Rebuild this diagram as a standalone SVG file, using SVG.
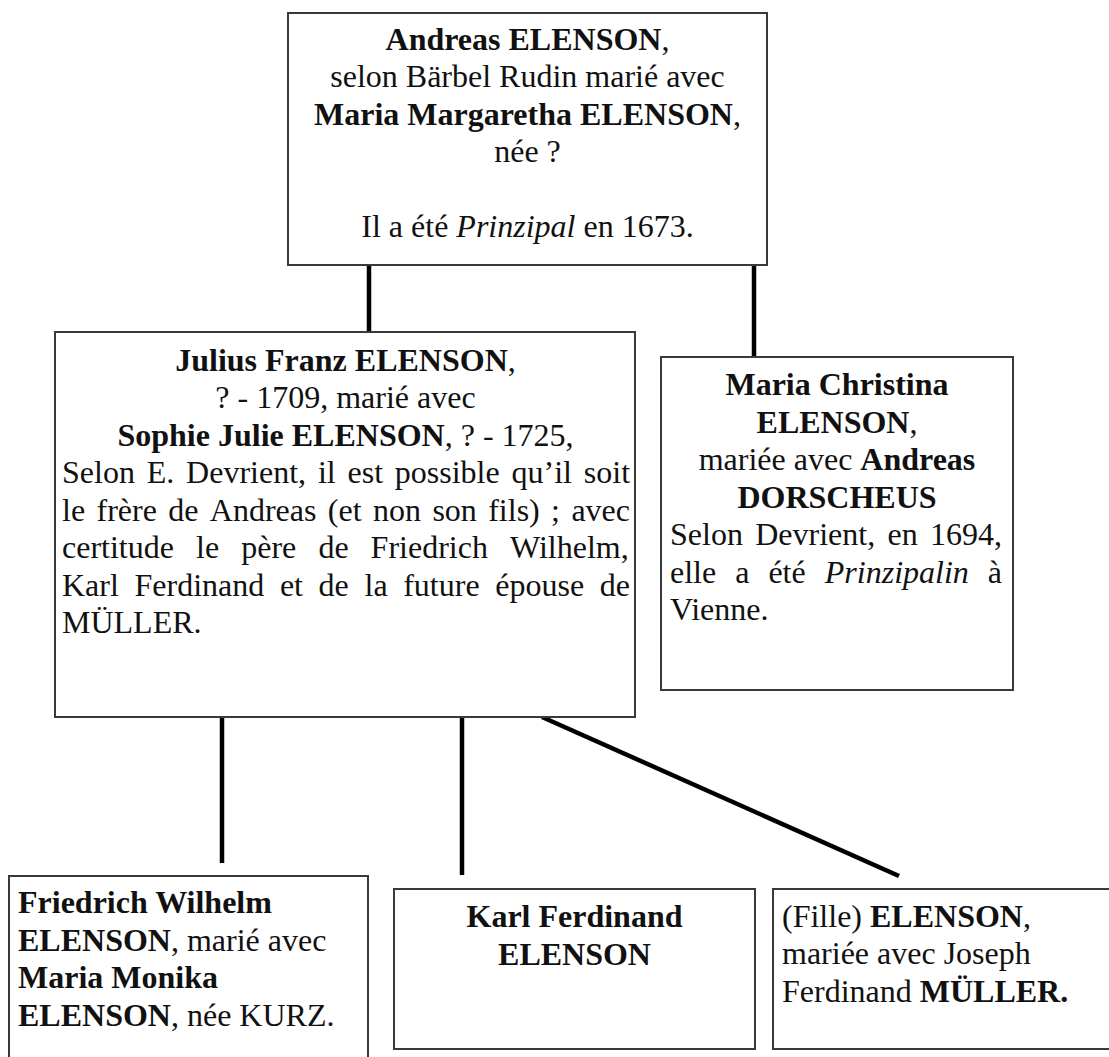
<svg xmlns="http://www.w3.org/2000/svg" width="1109" height="1057" viewBox="0 0 1109 1057">
<style>
.box{fill:#fff;stroke:#3a3a3a;stroke-width:2}
.t{font-family:"Liberation Serif","Times New Roman",serif;font-size:32px;fill:#111}
.c{text-anchor:middle}
.b{font-weight:bold}
.i{font-style:italic}
.edge{stroke:#000;stroke-width:4.5;fill:none;stroke-linecap:butt}
</style>
<rect width="1109" height="1057" fill="#fff"/>
<g id="connectors">
<line class="edge" x1="369" y1="265" x2="369" y2="331"/>
<line class="edge" x1="754" y1="265" x2="754" y2="357"/>
<line class="edge" x1="222" y1="717" x2="222" y2="863"/>
<line class="edge" x1="462" y1="717" x2="462" y2="875"/>
<line class="edge" x1="542" y1="717" x2="899" y2="876"/>
</g>
<g id="andreas">
<rect class="box" x="288" y="13" width="479" height="252"/>
<text class="t c" x="527.5" y="49.5"><tspan class="b">Andreas ELENSON</tspan>,</text>
<text class="t c" x="527.5" y="87">selon Bärbel Rudin marié avec</text>
<text class="t c" x="527.5" y="124.5"><tspan class="b">Maria Margaretha ELENSON</tspan>,</text>
<text class="t c" x="527.5" y="162">née ?</text>
<text class="t c" x="527.5" y="237">Il a été <tspan class="i">Prinzipal</tspan> en 1673.</text>
</g>
<g id="julius">
<rect class="box" x="55" y="332" width="580" height="385"/>
<text class="t c" x="345.5" y="370.5"><tspan class="b">Julius Franz ELENSON</tspan>,</text>
<text class="t c" x="345.5" y="408">? - 1709, marié avec</text>
<text class="t c" x="345.5" y="445.5"><tspan class="b">Sophie Julie ELENSON</tspan>, ? - 1725,</text>
<text class="t" y="483"><tspan x="62">Selon</tspan><tspan x="146.7">E.</tspan><tspan x="186.1">Devrient,</tspan><tspan x="317.9">il</tspan><tspan x="347.5">est</tspan><tspan x="394.8">possible</tspan><tspan x="511.5">qu’il</tspan><tspan x="583.8">soit</tspan></text>
<text class="t" y="520.5"><tspan x="62">le</tspan><tspan x="96.5">frère</tspan><tspan x="168.2">de</tspan><tspan x="209.8">Andreas</tspan><tspan x="327.8">(et</tspan><tspan x="373">non</tspan><tspan x="432.4">son</tspan><tspan x="488.2">fils)</tspan><tspan x="551.1">;</tspan><tspan x="571.4">avec</tspan></text>
<text class="t" y="558"><tspan x="62">certitude</tspan><tspan x="196">le</tspan><tspan x="241.2">père</tspan><tspan x="318.4">de</tspan><tspan x="370.6">Friedrich</tspan><tspan x="510">Wilhelm,</tspan></text>
<text class="t" y="595.5"><tspan x="62">Karl</tspan><tspan x="134.5">Ferdinand</tspan><tspan x="279.9">et</tspan><tspan x="318.6">de</tspan><tspan x="364.5">la</tspan><tspan x="403.2">future</tspan><tspan x="495.3">épouse</tspan><tspan x="599.8">de</tspan></text>
<text class="t" x="62" y="633">MÜLLER.</text>
</g>
<g id="maria-christina">
<rect class="box" x="661" y="357" width="352" height="333"/>
<text class="t c b" x="837" y="395">Maria Christina</text>
<text class="t c" x="837" y="432.5"><tspan class="b">ELENSON</tspan>,</text>
<text class="t c" x="837" y="470">mariée avec <tspan class="b">Andreas</tspan></text>
<text class="t c b" x="837" y="507.5">DORSCHEUS</text>
<text class="t" y="545"><tspan x="670">Selon</tspan><tspan x="755.2">Devrient,</tspan><tspan x="887.5">en</tspan><tspan x="930">1694,</tspan></text>
<text class="t" y="582.5"><tspan x="670">elle</tspan><tspan x="735.2">a</tspan><tspan x="768.4">été</tspan><tspan x="824.8" class="i">Prinzipalin</tspan><tspan x="987.8">à</tspan></text>
<text class="t" x="670" y="620">Vienne.</text>
</g>
<g id="friedrich">
<rect class="box" x="9" y="876" width="359" height="190"/>
<text class="t b" x="18" y="913">Friedrich Wilhelm</text>
<text class="t" x="18" y="950.5"><tspan class="b">ELENSON</tspan>, marié avec</text>
<text class="t b" x="18" y="988">Maria Monika</text>
<text class="t" x="18" y="1025.5"><tspan class="b">ELENSON</tspan>, née KURZ.</text>
</g>
<g id="karl">
<rect class="box" x="394" y="889" width="361" height="160"/>
<text class="t c b" x="574.5" y="927">Karl Ferdinand</text>
<text class="t c b" x="574.5" y="964.5">ELENSON</text>
</g>
<g id="fille">
<rect class="box" x="773" y="889" width="345" height="160"/>
<text class="t" x="782" y="926.5">(Fille) <tspan class="b">ELENSON</tspan>,</text>
<text class="t" x="782" y="964">mariée avec Joseph</text>
<text class="t" x="782" y="1001.5">Ferdinand <tspan class="b">MÜLLER.</tspan></text>
</g>
</svg>
